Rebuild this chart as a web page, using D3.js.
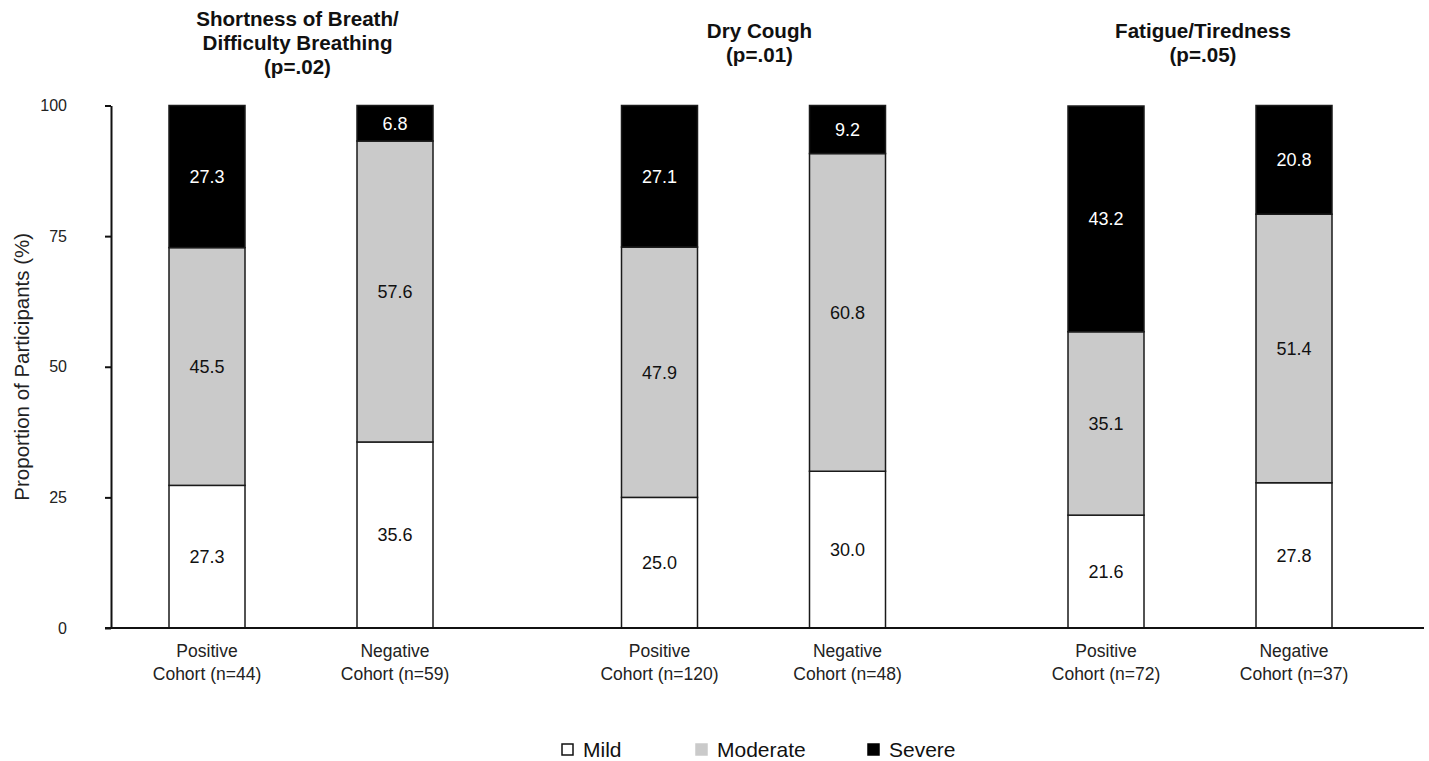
<!DOCTYPE html>
<html>
<head>
<meta charset="utf-8">
<title>Symptom severity by cohort</title>
<script src="https://d3js.org/d3.v7.min.js"></script>
<style>
  body { margin: 0; background: #fff; }
  text { font-family: "Liberation Sans", Arial, sans-serif; }
</style>
</head>
<body>
<div id="chart"></div>
<script>
// symptom groups and their titles (one array entry per title line)
var groups = ["sob", "cough", "fatigue"];
var groupTitles = [
  ["Shortness of Breath/", "Difficulty Breathing", "(p=.02)"],
  ["Dry Cough", "(p=.01)"],
  ["Fatigue/Tiredness", "(p=.05)"]
];
var cohorts = ["Positive", "Negative"];
var cohortLabels = [
  ["Positive Cohort (n=44)", "Negative Cohort (n=59)"],
  ["Positive Cohort (n=120)", "Negative Cohort (n=48)"],
  ["Positive Cohort (n=72)", "Negative Cohort (n=37)"]
];
var severities = ["Mild", "Moderate", "Severe"];
// values per group, per cohort: [mild, moderate, severe]
var mild     = [[27.3, 35.6], [25.0, 30.0], [21.6, 27.8]];
var moderate = [[45.5, 57.6], [47.9, 60.8], [35.1, 51.4]];
var severe   = [[27.3, 6.8],  [27.1, 9.2],  [43.2, 20.8]];
var yTicks = [0, 25, 50, 75, 100];

var colors = {"Mild": "#ffffff", "Moderate": "#cacaca", "Severe": "#000000"};
var labelColors = {"Mild": "#111", "Moderate": "#111", "Severe": "#fff"};

var width = 1429, height = 761;
var svg = d3.select("#chart").append("svg")
    .attr("width", width)
    .attr("height", height);

var y = d3.scaleLinear().domain([0, 100]).range([628, 105.5]);
// group centres are not evenly spaced in the original
var xGroup = d3.scaleOrdinal().domain(groups).range([301, 753.5, 1200]);
var xCohort = d3.scalePoint().domain(cohorts).range([-94, 94]);
var barW = 76;

// build stacked rows
var rows = [];
groups.forEach(function(g, gi) {
  cohorts.forEach(function(c, ci) {
    var vals = [mild[gi][ci], moderate[gi][ci], severe[gi][ci]];
    var base = 0;
    severities.forEach(function(s, si) {
      rows.push({group: g, cohort: c, sev: s, y0: base, y1: Math.min(100, base + vals[si]), v: vals[si]});
      base += vals[si];
    });
  });
});

var bars = svg.append("g");
bars.selectAll("rect").data(rows).enter().append("rect")
    .attr("x", function(d) { return xGroup(d.group) + xCohort(d.cohort) - barW / 2; })
    .attr("y", function(d) { return y(d.y1); })
    .attr("width", barW)
    .attr("height", function(d) { return y(d.y0) - y(d.y1); })
    .style("fill", function(d) { return colors[d.sev]; })
    .style("stroke", "#1a1a1a")
    .style("stroke-width", 1.5);

bars.selectAll("text").data(rows).enter().append("text")
    .attr("x", function(d) { return xGroup(d.group) + xCohort(d.cohort); })
    .attr("y", function(d) { return y((d.y0 + d.y1) / 2); })
    .attr("dy", "0.35em")
    .attr("text-anchor", "middle")
    .style("font-size", "18px")
    .style("fill", function(d) { return labelColors[d.sev]; })
    .text(function(d) { return d.v.toFixed(1); });

// y axis
var yAxis = svg.append("g")
    .attr("transform", "translate(111,0)")
    .call(d3.axisLeft(y).tickValues(yTicks).tickSize(6).tickSizeOuter(0).tickPadding(38));
yAxis.select(".domain").style("stroke", "#111").style("stroke-width", 2);
yAxis.selectAll(".tick line").style("stroke", "#111").style("stroke-width", 2);
yAxis.selectAll(".tick text")
    .style("font-size", "16px")
    .style("font-family", "'Liberation Sans', Arial, sans-serif")
    .style("fill", "#222");

// x axis baseline
svg.append("line")
    .attr("x1", 105).attr("x2", 1424)
    .attr("y1", y(0)).attr("y2", y(0))
    .style("stroke", "#111").style("stroke-width", 2);

// cohort labels below axis
groups.forEach(function(g, gi) {
  cohorts.forEach(function(c, ci) {
    var parts = cohortLabels[gi][ci].split(" Cohort");
    var cx = xGroup(g) + xCohort(c);
    var t = svg.append("text")
        .attr("text-anchor", "middle")
        .attr("x", cx)
        .attr("y", 657)
        .style("font-size", "17.5px")
        .style("fill", "#222");
    t.append("tspan").attr("x", cx).text(parts[0]);
    t.append("tspan").attr("x", cx).attr("dy", 23).text("Cohort" + parts[1]);
  });
});

// group titles, vertically centred around y=43
var titleShift = [-3.5, 6, 3];
groups.forEach(function(g, gi) {
  var lines = groupTitles[gi];
  var lh = 24;
  var first = 43 - (lines.length - 1) * lh / 2;
  var t = svg.append("text")
      .attr("text-anchor", "middle")
      .style("font-size", "20.6px")
      .style("font-weight", "bold")
      .style("fill", "#111");
  lines.forEach(function(l, li) {
    t.append("tspan")
        .attr("x", xGroup(g) + titleShift[gi])
        .attr("y", first + li * lh)
        .attr("dy", "0.35em")
        .text(l);
  });
});

// y axis title
svg.append("text")
    .attr("transform", "translate(29," + ((y(0) + y(100)) / 2) + ") rotate(-90)")
    .attr("text-anchor", "middle")
    .style("font-size", "20.5px")
    .style("fill", "#222")
    .text("Proportion of Participants (%)");

// legend
var legendX = [562, 696, 868];
var leg = svg.append("g").selectAll("g").data(severities).enter().append("g")
    .attr("transform", function(d, i) { return "translate(" + legendX[i] + ",744)"; });
leg.append("rect")
    .attr("width", 11).attr("height", 11)
    .style("fill", function(d) { return colors[d]; })
    .style("stroke", function(d) { return d === "Mild" ? "#111" : colors[d]; })
    .style("stroke-width", 1.5);
leg.append("text")
    .attr("x", 21)
    .attr("y", 5.5)
    .attr("dy", "0.36em")
    .style("font-size", "21px")
    .style("fill", "#111")
    .text(function(d) { return d; });
</script>
</body>
</html>
